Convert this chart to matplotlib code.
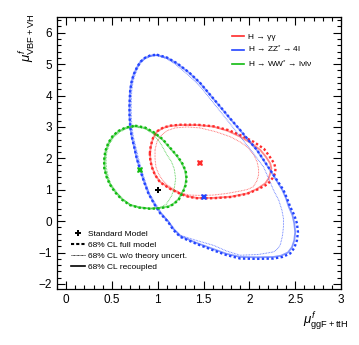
import matplotlib
matplotlib.use('Agg')
import matplotlib.pyplot as plt
from matplotlib.lines import Line2D
from matplotlib.ticker import MultipleLocator
import numpy as np

plt.rcParams['font.family'] = ['Liberation Sans', 'DejaVu Sans']
plt.rcParams['mathtext.fontset'] = 'custom'
plt.rcParams['mathtext.rm'] = 'Liberation Sans'
plt.rcParams['mathtext.it'] = 'Liberation Sans:italic'

# contour points (x = mu ggF+ttH, y = mu VBF+VH)
# H -> gamma gamma
gg_reco_x = [0.915, 0.925, 0.950, 0.990, 1.060, 1.135, 1.245, 1.430, 1.608, 1.760, 1.900, 2.020, 2.118, 2.180, 2.227, 2.240, 2.227, 2.210, 2.172, 2.080, 1.973, 1.800, 1.608, 1.427, 1.330, 1.245, 1.130, 1.026, 0.970, 0.936, 0.920]
gg_reco_y = [2.16, 2.40, 2.65, 2.85, 2.97, 3.03, 3.06, 3.06, 3.01, 2.88, 2.69, 2.48, 2.27, 2.05, 1.84, 1.68, 1.52, 1.36, 1.20, 1.02, 0.88, 0.78, 0.74, 0.74, 0.79, 0.88, 1.05, 1.25, 1.48, 1.73, 1.95]
gg_full_x = [0.913, 0.923, 0.948, 0.990, 1.060, 1.135, 1.245, 1.430, 1.608, 1.770, 1.915, 2.050, 2.160, 2.220, 2.270, 2.285, 2.280, 2.250, 2.200, 2.090, 1.975, 1.800, 1.608, 1.427, 1.330, 1.245, 1.128, 1.024, 0.968, 0.934, 0.918]
gg_full_y = [2.16, 2.40, 2.65, 2.86, 2.98, 3.04, 3.07, 3.07, 3.02, 2.90, 2.72, 2.52, 2.30, 2.06, 1.84, 1.68, 1.52, 1.36, 1.18, 1.01, 0.87, 0.77, 0.73, 0.73, 0.78, 0.87, 1.04, 1.24, 1.48, 1.73, 1.95]
gg_nth_x = [0.97, 0.99, 1.03, 1.10, 1.19, 1.32, 1.46, 1.63, 1.79, 1.90, 1.99, 2.05, 2.085, 2.10, 2.10, 2.08, 2.04, 1.98, 1.90, 1.75, 1.60, 1.47, 1.35, 1.26, 1.19, 1.11, 1.05, 1.01, 0.98, 0.97]
gg_nth_y = [2.27, 2.52, 2.71, 2.88, 2.97, 3.00, 2.97, 2.85, 2.69, 2.52, 2.33, 2.10, 1.88, 1.67, 1.47, 1.27, 1.09, 1.01, 0.96, 0.88, 0.83, 0.82, 0.83, 0.89, 0.99, 1.14, 1.31, 1.50, 1.72, 1.98]

# H -> ZZ* -> 4l
zz_full_x = [0.990, 1.100, 1.209, 1.340, 1.463, 1.570, 1.681, 1.790, 1.900, 1.990, 2.082, 2.155, 2.227, 2.300, 2.372, 2.410, 2.445, 2.490, 2.519, 2.530, 2.519, 2.490, 2.445, 2.360, 2.263, 2.080, 1.900, 1.750, 1.608, 1.420, 1.245, 1.170, 1.114, 1.026, 0.960, 0.898, 0.850, 0.808, 0.770, 0.742, 0.715, 0.699, 0.692, 0.691, 0.694, 0.699, 0.715, 0.735, 0.770, 0.808, 0.860, 0.920]
zz_full_y = [5.30, 5.21, 5.03, 4.74, 4.40, 4.03, 3.65, 3.27, 2.90, 2.58, 2.27, 1.95, 1.63, 1.31, 0.99, 0.73, 0.46, 0.19, -0.07, -0.35, -0.61, -0.85, -1.03, -1.14, -1.19, -1.20, -1.19, -1.08, -0.93, -0.72, -0.50, -0.28, -0.03, 0.25, 0.55, 0.88, 1.25, 1.63, 2.00, 2.37, 2.70, 3.01, 3.33, 3.65, 3.92, 4.18, 4.45, 4.66, 4.88, 5.07, 5.20, 5.28]
zz_reco_x = [0.990, 1.100, 1.209, 1.340, 1.463, 1.570, 1.681, 1.790, 1.900, 1.990, 2.082, 2.155, 2.227, 2.295, 2.360, 2.400, 2.430, 2.470, 2.490, 2.500, 2.490, 2.465, 2.420, 2.345, 2.263, 2.080, 1.900, 1.750, 1.608, 1.420, 1.245, 1.170, 1.114, 1.026, 0.960, 0.898, 0.850, 0.808, 0.770, 0.742, 0.715, 0.699, 0.692, 0.691, 0.694, 0.699, 0.715, 0.735, 0.770, 0.808, 0.860, 0.920]
zz_reco_y = [5.29, 5.20, 5.02, 4.73, 4.39, 4.02, 3.64, 3.26, 2.89, 2.57, 2.26, 1.94, 1.62, 1.30, 0.99, 0.73, 0.46, 0.19, -0.07, -0.35, -0.61, -0.83, -1.00, -1.10, -1.14, -1.15, -1.14, -1.04, -0.89, -0.69, -0.47, -0.25, -0.01, 0.27, 0.56, 0.89, 1.26, 1.63, 2.00, 2.37, 2.70, 3.01, 3.33, 3.65, 3.92, 4.18, 4.45, 4.66, 4.88, 5.07, 5.20, 5.27]
zz_nth_x = [0.990, 1.100, 1.200, 1.330, 1.463, 1.570, 1.680, 1.790, 1.900, 2.030, 2.154, 2.210, 2.263, 2.320, 2.355, 2.372, 2.372, 2.360, 2.336, 2.300, 2.263, 2.100, 1.900, 1.750, 1.608, 1.430, 1.245, 1.180, 1.120, 1.040, 0.975, 0.910, 0.865, 0.825, 0.790, 0.760, 0.733, 0.718, 0.711, 0.710, 0.712, 0.716, 0.730, 0.750, 0.780, 0.815, 0.865, 0.925]
zz_nth_y = [5.27, 5.17, 4.98, 4.66, 4.29, 3.90, 3.50, 3.10, 2.69, 2.21, 1.73, 1.36, 0.99, 0.67, 0.35, 0.08, -0.18, -0.48, -0.77, -0.90, -0.98, -1.06, -1.085, -0.95, -0.77, -0.62, -0.45, -0.24, -0.02, 0.26, 0.56, 0.88, 1.25, 1.62, 1.99, 2.36, 2.69, 3.00, 3.32, 3.64, 3.91, 4.17, 4.44, 4.64, 4.86, 5.04, 5.17, 5.25]

# H -> WW* -> lvlv
ww_reco_x = [0.753, 0.860, 0.953, 1.050, 1.135, 1.210, 1.263, 1.300, 1.310, 1.300, 1.280, 1.226, 1.170, 1.117, 1.020, 0.917, 0.800, 0.699, 0.610, 0.535, 0.480, 0.444, 0.420, 0.418, 0.430, 0.462, 0.510, 0.571, 0.650]
ww_reco_y = [3.03, 2.97, 2.82, 2.60, 2.32, 2.07, 1.84, 1.60, 1.36, 1.15, 0.99, 0.70, 0.55, 0.47, 0.42, 0.405, 0.44, 0.52, 0.70, 0.935, 1.17, 1.414, 1.68, 1.947, 2.22, 2.48, 2.70, 2.86, 2.97]
ww_full_x = [0.753, 0.862, 0.956, 1.054, 1.140, 1.215, 1.268, 1.305, 1.315, 1.305, 1.285, 1.230, 1.173, 1.119, 1.020, 0.917, 0.798, 0.696, 0.606, 0.531, 0.476, 0.440, 0.416, 0.414, 0.426, 0.459, 0.507, 0.569, 0.649]
ww_full_y = [3.04, 2.98, 2.83, 2.61, 2.32, 2.07, 1.84, 1.60, 1.36, 1.15, 0.99, 0.69, 0.54, 0.46, 0.41, 0.395, 0.43, 0.51, 0.69, 0.930, 1.17, 1.414, 1.68, 1.947, 2.22, 2.49, 2.71, 2.87, 2.98]
ww_nth_x = [0.753, 0.860, 0.950, 1.030, 1.100, 1.150, 1.180, 1.195, 1.180, 1.150, 1.090, 1.010, 0.917, 0.800, 0.710, 0.620, 0.550, 0.490, 0.460, 0.440, 0.435, 0.445, 0.475, 0.520, 0.580, 0.660]
ww_nth_y = [3.00, 2.94, 2.78, 2.48, 2.11, 1.89, 1.66, 1.35, 1.05, 0.80, 0.53, 0.42, 0.39, 0.43, 0.50, 0.70, 0.93, 1.17, 1.41, 1.68, 1.95, 2.22, 2.47, 2.68, 2.83, 2.95]

# best fit points and SM
best_x = [1.46, 1.50, 0.81]
best_y = [1.86, 0.77, 1.62]
sm_x, sm_y = 1.0, 1.0

red = '#ff2a2a'
blue = '#2244ff'
green = '#11bb11'


def closed(xs, ys):
    return list(xs) + [xs[0]], list(ys) + [ys[0]]


fig = plt.figure(figsize=(3.59, 3.45), dpi=100)
ax = fig.add_axes([0.1588, 0.1623, 0.7911, 0.7884])

channels = [
    (red, (gg_reco_x, gg_reco_y), (gg_full_x, gg_full_y), (gg_nth_x, gg_nth_y)),
    (blue, (zz_reco_x, zz_reco_y), (zz_full_x, zz_full_y), (zz_nth_x, zz_nth_y)),
    (green, (ww_reco_x, ww_reco_y), (ww_full_x, ww_full_y), (ww_nth_x, ww_nth_y)),
]
for col, reco, full, nth in channels:
    x, y = closed(*reco)
    ax.plot(x, y, '-', color=col, lw=1.3, alpha=0.55, solid_joinstyle='round')
    x, y = closed(*full)
    ax.plot(x, y, color=col, lw=1.7, linestyle=(0, (1.0, 1.0)))
    x, y = closed(*nth)
    ax.plot(x, y, color=col, lw=0.7, linestyle=(0, (0.8, 0.8)), alpha=0.7)

for bx, by, col in zip(best_x, best_y, [red, blue, green]):
    ax.plot(bx, by, marker='X', color=col, ms=5, mew=0)
ax.plot(sm_x, sm_y, marker='P', color='black', ms=5, mew=0)

ax.set_xlim(-0.1, 3.0)
ax.set_ylim(-2.16, 6.5)
ax.xaxis.set_major_locator(MultipleLocator(0.5))
ax.xaxis.set_minor_locator(MultipleLocator(0.1))
ax.yaxis.set_major_locator(MultipleLocator(1))
ax.yaxis.set_minor_locator(MultipleLocator(0.2))
ax.tick_params(which='both', direction='in', top=True, right=True, labelsize=8.5, width=0.8)
ax.tick_params(which='major', length=6)
ax.tick_params(which='minor', length=3)
ax.set_xticks(np.arange(0, 3.01, 0.5))
ax.set_xticklabels(['0', '0.5', '1', '1.5', '2', '2.5', '3'])
for s in ax.spines.values():
    s.set_linewidth(0.9)

fig.text(28 / 359, 1 - 14 / 345, r'$\mu^{f}_{\mathrm{VBF+VH}}$', rotation=90,
         ha='center', va='top', fontsize=9.5)
fig.text(348 / 359, 1 - 310 / 345, r'$\mu^{f}_{\mathrm{ggF+ttH}}$',
         ha='right', va='top', fontsize=9.5)

top_handles = [Line2D([], [], color=red, lw=1.2),
               Line2D([], [], color=blue, lw=1.2),
               Line2D([], [], color=green, lw=1.2)]
top_labels = ['H → γγ', 'H → ZZ$^{*}$ → 4l', 'H → WW$^{*}$ → lνlν']
leg1 = ax.legend(top_handles, top_labels, loc='upper left', bbox_to_anchor=(0.615, 0.94),
                 frameon=False, fontsize=6, handlelength=1.5, handletextpad=0.4,
                 labelspacing=0.35, borderaxespad=0, borderpad=0)
ax.add_artist(leg1)

bot_handles = [Line2D([], [], color='black', marker='P', ms=5, mew=0, lw=0),
               Line2D([], [], color='black', lw=1.5, linestyle=(0, (1.5, 1.0))),
               Line2D([], [], color='black', lw=0.6, linestyle=(0, (1, 0.6))),
               Line2D([], [], color='black', lw=1.2)]
bot_labels = ['Standard Model', '68% CL full model', '68% CL w/o theory uncert.', '68% CL recoupled']
ax.legend(bot_handles, bot_labels, loc='upper left', bbox_to_anchor=(0.05, 0.215),
          frameon=False, fontsize=6, handlelength=1.6, handletextpad=0.4,
          labelspacing=0.38, borderaxespad=0, borderpad=0)

fig.savefig('out.png', dpi=100)
